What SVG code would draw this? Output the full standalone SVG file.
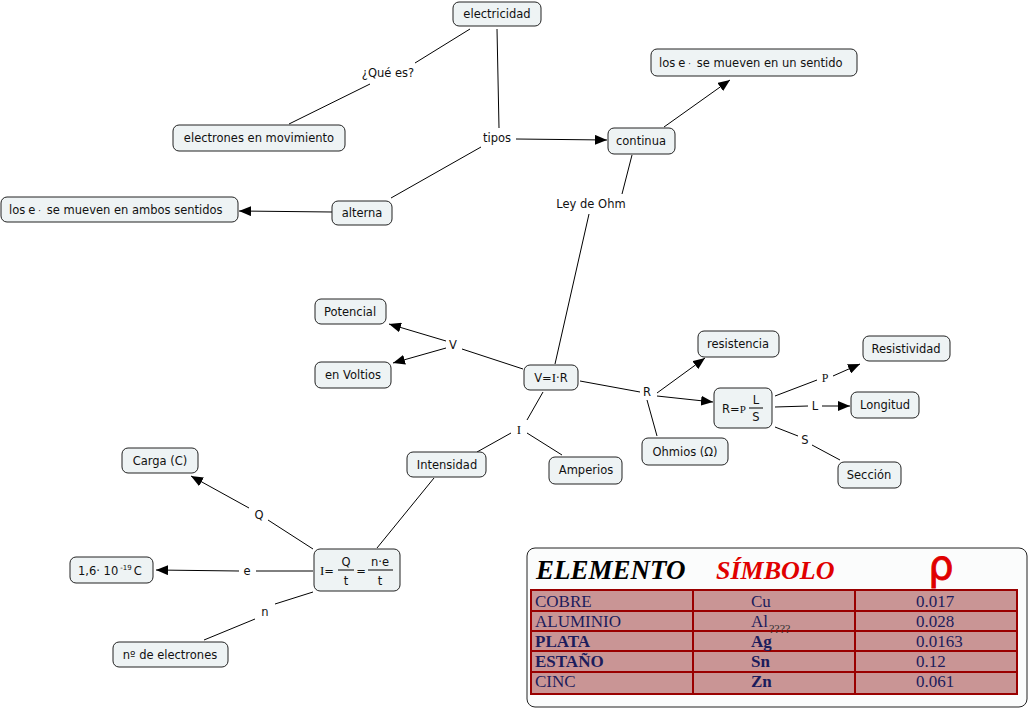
<svg xmlns="http://www.w3.org/2000/svg" width="1030" height="709" viewBox="0 0 1030 709">
<defs>
<marker id="ah" viewBox="0 0 12 10" refX="12" refY="5" markerWidth="12" markerHeight="10" markerUnits="userSpaceOnUse" orient="auto"><path d="M0,0 L12,5 L0,10 Z" fill="#000"/></marker>
<style>
.n rect{fill:#eef3f4;stroke:#222;stroke-width:1}
text{font-family:"DejaVu Sans",Verdana,sans-serif;font-size:11.5px;fill:#111}
.c{text-anchor:middle}
.lk line{stroke:#000;stroke-width:1}
.lk .a{marker-end:url(#ah)}
.lbl{text-anchor:middle}
.serif{font-family:"Liberation Serif","Times New Roman",serif}
.tb{font-family:"Liberation Serif","Times New Roman",serif;font-size:17px;fill:#1c1c5c}
.cell{fill:#c99595;stroke:#9a0000;stroke-width:2}
</style>
</defs>
<rect width="1030" height="709" fill="#fff"/>

<g id="connectors" class="lk">
<line x1="470" y1="29" x2="415" y2="63"/>
<line x1="370" y1="84" x2="289" y2="124"/>
<line x1="497" y1="29" x2="499" y2="128"/>
<line class="a" x1="516" y1="139" x2="607" y2="140"/>
<line x1="481" y1="147" x2="391" y2="198"/>
<line class="a" x1="332" y1="212" x2="239" y2="211"/>
<line class="a" x1="664" y1="127" x2="730" y2="80"/>
<line x1="632" y1="155" x2="622" y2="194"/>
<line x1="589" y1="214" x2="555" y2="364"/>
<line x1="523" y1="369" x2="462" y2="349"/>
<line class="a" x1="446" y1="341" x2="389" y2="324"/>
<line class="a" x1="446" y1="348" x2="393" y2="363"/>
<line x1="580" y1="381" x2="640" y2="392"/>
<line class="a" x1="657" y1="393" x2="705" y2="358"/>
<line class="a" x1="657" y1="396" x2="713" y2="402"/>
<line x1="647" y1="400" x2="657" y2="436"/>
<line x1="775" y1="396" x2="817" y2="380"/>
<line class="a" x1="833" y1="376" x2="860" y2="364"/>
<line x1="775" y1="407" x2="808" y2="406"/>
<line class="a" x1="822" y1="406" x2="850" y2="406"/>
<line x1="775" y1="427" x2="798" y2="436"/>
<line x1="812" y1="445" x2="840" y2="460"/>
<line x1="543" y1="392" x2="527" y2="420"/>
<line x1="511" y1="433" x2="477" y2="452"/>
<line x1="527" y1="433" x2="562" y2="455"/>
<line x1="434" y1="478" x2="377" y2="548"/>
<line x1="313" y1="549" x2="268" y2="520"/>
<line class="a" x1="249" y1="508" x2="191" y2="476"/>
<line x1="313" y1="571" x2="256" y2="571"/>
<line class="a" x1="239" y1="571" x2="156" y2="570"/>
<line x1="313" y1="592" x2="275" y2="604"/>
<line x1="255" y1="619" x2="204" y2="640"/>
</g>

<g id="labels">
<text class="lbl" x="388" y="77">¿Qué es?</text>
<text class="lbl" x="497" y="142">tipos</text>
<text class="lbl" x="591" y="208">Ley de Ohm</text>
<text class="lbl" x="453" y="349">V</text>
<text class="lbl" x="647" y="396">R</text>
<text class="lbl serif" x="519" y="434" style="font-size:13px">I</text>
<text class="lbl serif" x="825" y="382" style="font-size:12px">P</text>
<text class="lbl" x="815" y="410">L</text>
<text class="lbl" x="805" y="444">S</text>
<text class="lbl" x="259" y="519">Q</text>
<text class="lbl" x="247" y="575">e</text>
<text class="lbl" x="265" y="616">n</text>
</g>

<g id="n-electricidad" class="n"><rect x="453" y="2" width="88" height="24" rx="6"/><text class="c" x="497" y="18">electricidad</text></g>
<g id="n-electrones" class="n"><rect x="173" y="125" width="172" height="26" rx="6"/><text class="c" x="259" y="142">electrones en movimiento</text></g>
<g id="n-unsentido" class="n"><rect x="651" y="49" width="206" height="27" rx="6"/><text x="659" y="67">los<tspan dx="3">e</tspan><tspan dx="3" font-size="8">·</tspan><tspan dx="6">se mueven en un sentido</tspan></text></g>
<g id="n-continua" class="n"><rect x="608" y="128" width="67" height="26" rx="6"/><text class="c" x="641" y="145">continua</text></g>
<g id="n-alterna" class="n"><rect x="332" y="201" width="60" height="24" rx="6"/><text class="c" x="362" y="217">alterna</text></g>
<g id="n-ambos" class="n"><rect x="1" y="197" width="237" height="25" rx="6"/><text x="9" y="214">los<tspan dx="3">e</tspan><tspan dx="3" font-size="8">·</tspan><tspan dx="6">se mueven en ambos sentidos</tspan></text></g>
<g id="n-potencial" class="n"><rect x="315" y="299" width="71" height="25" rx="6"/><text class="c" x="350" y="316">Potencial</text></g>
<g id="n-voltios" class="n"><rect x="315" y="362" width="76" height="26" rx="6"/><text class="c" x="353" y="379">en Voltios</text></g>
<g id="n-vir" class="n"><rect x="524" y="365" width="54" height="25" rx="6"/><text class="c" x="551" y="382">V=<tspan class="serif" font-size="13">I</tspan>·R</text></g>
<g id="n-resistencia" class="n"><rect x="698" y="331" width="81" height="26" rx="6"/><text class="c" x="738" y="348">resistencia</text></g>
<g id="n-rpls" class="n"><rect x="714" y="388" width="58" height="40" rx="6"/><text x="722" y="413">R=<tspan class="serif" font-size="11">P</tspan></text><text class="c" x="756" y="404">L</text><line x1="749" y1="408" x2="763" y2="408" stroke="#000" stroke-width="1"/><text class="c" x="756" y="421">S</text></g>
<g id="n-resistividad" class="n"><rect x="863" y="336" width="87" height="25" rx="6"/><text class="c" x="906" y="353">Resistividad</text></g>
<g id="n-longitud" class="n"><rect x="851" y="392" width="68" height="26" rx="6"/><text class="c" x="885" y="409">Longitud</text></g>
<g id="n-seccion" class="n"><rect x="838" y="462" width="63" height="26" rx="6"/><text class="c" x="869" y="479">Sección</text></g>
<g id="n-ohmios" class="n"><rect x="642" y="438" width="86" height="27" rx="6"/><text class="c" x="685" y="456">Ohmios (Ω)</text></g>
<g id="n-intensidad" class="n"><rect x="407" y="452" width="79" height="25" rx="6"/><text class="c" x="447" y="469">Intensidad</text></g>
<g id="n-amperios" class="n"><rect x="549" y="457" width="73" height="27" rx="6"/><text class="c" x="586" y="474">Amperios</text></g>
<g id="n-carga" class="n"><rect x="122" y="448" width="76" height="25" rx="6"/><text class="c" x="160" y="465">Carga (C)</text></g>
<g id="n-iformula" class="n"><rect x="314" y="549" width="86" height="42" rx="6"/><text x="320" y="575"><tspan class="serif" font-size="13">I</tspan>=</text><text class="c" x="346" y="566">Q</text><line x1="338" y1="570" x2="354" y2="570" stroke="#000" stroke-width="1"/><text class="c" x="346" y="585">t</text><text class="c" x="361" y="575">=</text><text class="c" x="380" y="566">n·e</text><line x1="368" y1="570" x2="393" y2="570" stroke="#000" stroke-width="1"/><text class="c" x="380" y="585">t</text></g>
<g id="n-carga-e" class="n"><rect x="70" y="557" width="83" height="26" rx="6"/><text x="78" y="575">1,6· 10<tspan dx="2" dy="-5" font-size="7">-19</tspan><tspan dx="2" dy="5">C</tspan></text></g>
<g id="n-nelectrones" class="n"><rect x="113" y="642" width="115" height="25" rx="6"/><text class="c" x="170" y="659">nº de electrones</text></g>

<g id="n-tabla">
<rect x="527" y="548" width="500" height="159" rx="8" fill="#fbfcfc" stroke="#222" stroke-width="1"/>
<text x="536" y="579" style="font-family:'Liberation Serif','Times New Roman',serif;font-size:27px;font-weight:bold;font-style:italic;fill:#000">ELEMENTO</text>
<text x="716" y="579" style="font-family:'Liberation Serif','Times New Roman',serif;font-size:26px;font-weight:bold;font-style:italic;fill:#e00000">SÍMBOLO</text>
<text x="941" y="579" text-anchor="middle" style="font-family:'DejaVu Sans',sans-serif;font-size:40px;fill:#e00000;stroke:#e00000;stroke-width:0.8">ρ</text>
<rect class="cell" x="531" y="590" width="162" height="21"/><rect class="cell" x="693" y="590" width="162" height="21"/><rect class="cell" x="855" y="590" width="162" height="21"/>
<rect class="cell" x="531" y="611" width="162" height="20"/><rect class="cell" x="693" y="611" width="162" height="20"/><rect class="cell" x="855" y="611" width="162" height="20"/>
<rect class="cell" x="531" y="631" width="162" height="20"/><rect class="cell" x="693" y="631" width="162" height="20"/><rect class="cell" x="855" y="631" width="162" height="20"/>
<rect class="cell" x="531" y="651" width="162" height="21"/><rect class="cell" x="693" y="651" width="162" height="21"/><rect class="cell" x="855" y="651" width="162" height="21"/>
<rect class="cell" x="531" y="672" width="162" height="22"/><rect class="cell" x="693" y="672" width="162" height="22"/><rect class="cell" x="855" y="672" width="162" height="22"/>
<text class="tb" x="535" y="607">COBRE</text><text class="tb" x="751" y="607">Cu</text><text class="tb" x="916" y="607">0.017</text>
<text class="tb" x="535" y="627">ALUMINIO</text><text class="tb" x="751" y="627">Al<tspan dx="1" dy="6" style="font-size:12px;fill:#333">????</tspan></text><text class="tb" x="916" y="627">0.028</text>
<text class="tb" x="535" y="647" font-weight="bold">PLATA</text><text class="tb" x="751" y="647" font-weight="bold">Ag</text><text class="tb" x="916" y="647">0.0163</text>
<text class="tb" x="535" y="667" font-weight="bold">ESTAÑO</text><text class="tb" x="751" y="667" font-weight="bold">Sn</text><text class="tb" x="916" y="667">0.12</text>
<text class="tb" x="535" y="687">CINC</text><text class="tb" x="751" y="687" font-weight="bold">Zn</text><text class="tb" x="916" y="687">0.061</text>
</g>
</svg>
